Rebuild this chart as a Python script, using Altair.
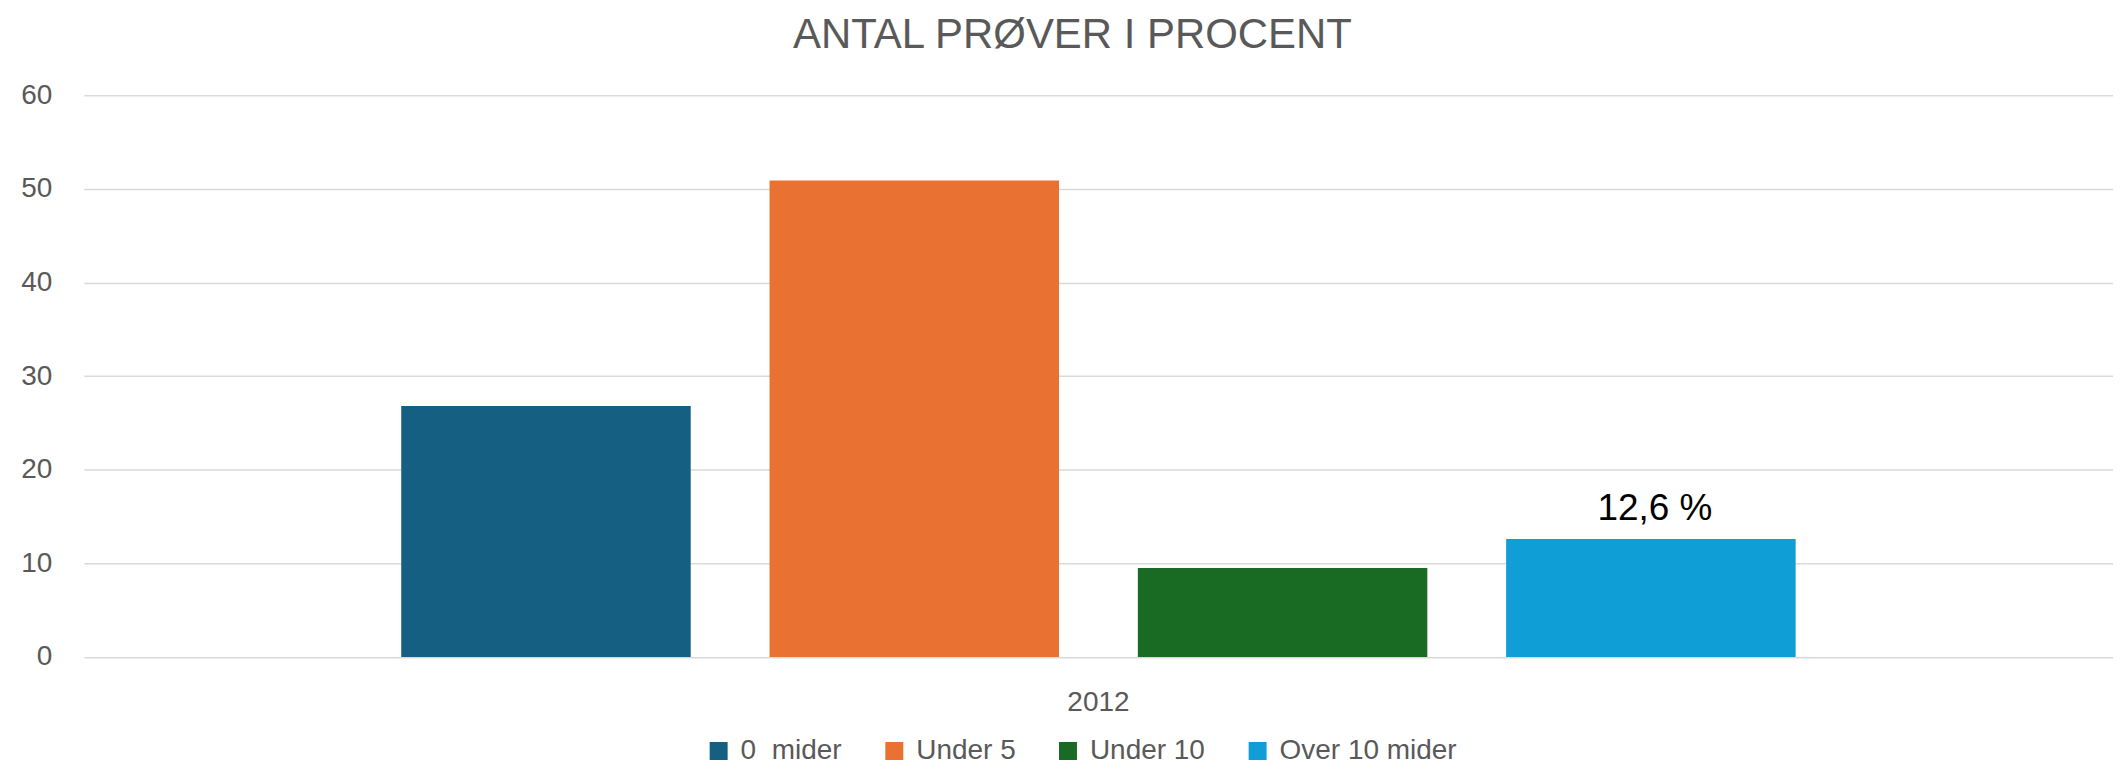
import altair as alt
import pandas as pd

years = ["2012", "2012", "2012", "2012"]
categories = ["0\u00a0 mider", "Under 5", "Under 10", "Over 10 mider"]
values = [26.8, 50.9, 9.5, 12.6]
labels = ["", "", "", "12,6 %"]
colors = ["#156082", "#E97132", "#196B24", "#0F9ED5"]
y_ticks = [0, 10, 20, 30, 40, 50, 60]

df = pd.DataFrame({"year": years, "category": categories, "value": values, "label": labels})

GRAY = "#595959"
FONT = "Liberation Sans"

x_enc = alt.X(
    "year:N",
    scale=alt.Scale(paddingInner=0, paddingOuter=0.2276),
    axis=alt.Axis(title=None, labelAngle=0, labelFontSize=28, labelColor=GRAY,
                  labelPadding=32, ticks=False, domain=False, grid=False),
)
xoff_enc = alt.XOffset(
    "category:N",
    scale=alt.Scale(domain=categories, paddingInner=0.214, paddingOuter=0),
)
y_enc = alt.Y(
    "value:Q",
    scale=alt.Scale(domain=[0, 60]),
    axis=alt.Axis(title=None, values=y_ticks, labelFontSize=28, labelColor=GRAY,
                  labelPadding=32, ticks=False, domain=False,
                  gridColor="#d9d9d9", gridWidth=1.5),
)

base = alt.Chart(df)

bars = base.mark_bar().encode(
    x=x_enc,
    xOffset=xoff_enc,
    y=y_enc,
    color=alt.Color(
        "category:N",
        scale=alt.Scale(domain=categories, range=colors),
        legend=alt.Legend(title=None, orient="none", direction="horizontal",
                          legendX=622, legendY=643, labelFontSize=28,
                          labelColor=GRAY, symbolType="square", symbolSize=324,
                          symbolStrokeWidth=0, columnPadding=38, labelOffset=8,
                          labelLimit=0, padding=0),
    ),
)

text = base.transform_filter("datum.label != ''").mark_text(
    fontSize=37, color="black", dy=-19, dx=4, baseline="alphabetic", align="center"
).encode(x=x_enc, xOffset=xoff_enc, y=y_enc, text="label:N")

chart = alt.layer(bars, text).properties(
    width=2033,
    height=562.7,
    autosize=alt.AutoSizeParams(type="none"),
    padding={"left": 76, "top": 86.7, "right": 0, "bottom": 110.6},
    title=alt.TitleParams("ANTAL PRØVER I PROCENT", fontSize=42, color=GRAY,
                          fontWeight="normal", anchor="middle", dx=-26, offset=24),
).configure(font=FONT).configure_view(stroke=None)

chart.save("out.html", embed_options={"renderer": "svg", "actions": False})
